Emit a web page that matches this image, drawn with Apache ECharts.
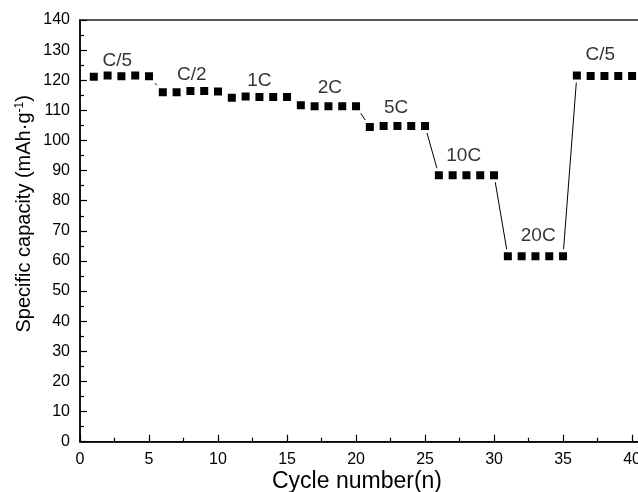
<!DOCTYPE html>
<html><head><meta charset="utf-8">
<script src="https://cdn.jsdelivr.net/npm/echarts@6/dist/echarts.min.js"></script>
<style>html,body{margin:0;padding:0;background:#fff;overflow:hidden}#c{width:638px;height:492px}</style>
</head><body><div id="c"></div>
<script>
var cycles = [1,2,3,4,5,6,7,8,9,10,11,12,13,14,15,16,17,18,19,20,21,22,23,24,25,26,27,28,29,30,31,32,33,34,35,36,37,38,39,40];
var capacity = [121.2,121.6,121.3,121.6,121.3, 116.0,116.0,116.4,116.4,116.3, 114.2,114.6,114.4,114.4,114.4, 111.7,111.4,111.4,111.4,111.4, 104.5,104.8,104.8,104.8,104.8, 88.5,88.5,88.5,88.5,88.5, 61.6,61.6,61.6,61.6,61.6, 121.6,121.4,121.4,121.4,121.4];
var rateLabels = ['C/5','C/2','1C','2C','5C','10C','20C','C/5'];
var labelX = [2.7, 8.1, 13.0, 18.1, 22.9, 27.8, 33.2, 37.7];
var labelY = [126.4, 121.7, 119.9, 117.6, 110.8, 95.0, 68.5, 128.4];
var xTicks = [0,5,10,15,20,25,30,35,40];
var yTicks = [0,10,20,30,40,50,60,70,80,90,100,110,120,130,140];

var chart = echarts.init(document.getElementById('c'));
var font = 'Liberation Sans, Arial, sans-serif';
var axisLine = {show:true, lineStyle:{color:'#000', width:1.5}};
chart.setOption({
  animation:false,
  textStyle:{fontFamily:font},
  grid:{left:80, top:20, width:562, height:421.7, show:true, borderColor:'#222', borderWidth:1.5, containLabel:false, outerBoundsMode:'none'},
  xAxis:{type:'value', min:0, max:40.72, interval:5,
    axisLine:axisLine,
    axisTick:{show:true, inside:true, length:7, lineStyle:{color:'#000', width:1.2}},
    minorTick:{show:true, splitNumber:2, length:4, lineStyle:{color:'#000', width:1.2}},
    splitLine:{show:false},
    axisLabel:{color:'#000', fontSize:16, margin:10, fontFamily:font, showMaxLabel:false,
      formatter:function(v){return xTicks.indexOf(v)>=0 ? String(v) : '';}},
    name:'Cycle number(n)', nameLocation:'middle', nameGap:28, nameMoveOverlap:false,
    nameTextStyle:{color:'#000', fontSize:23, fontFamily:font, padding:[0,8,0,0]}
  },
  yAxis:{type:'value', min:0, max:140, interval:10,
    axisLine:axisLine,
    axisTick:{show:true, inside:true, length:7, lineStyle:{color:'#000', width:1.2}},
    minorTick:{show:true, splitNumber:2, length:4, lineStyle:{color:'#000', width:1.2}},
    splitLine:{show:false},
    axisLabel:{color:'#000', fontSize:16, margin:10, fontFamily:font,
      formatter:function(v){return yTicks.indexOf(v)>=0 ? String(v) : '';}},
    name:'{a|Specific capacity (mAh·g}{s|-1}{a|)}', nameLocation:'middle', nameGap:45, nameRotate:90, nameMoveOverlap:false,
    nameTextStyle:{color:'#000', fontSize:20, fontFamily:font, padding:[0,0,0,34],
      rich:{a:{fontSize:20, fontFamily:font, color:'#000'}, s:{fontSize:12, fontFamily:font, color:'#000', verticalAlign:'top', padding:[0,0,9,0]}}}
  },
  series:[
    {type:'line', data:cycles.map(function(c,i){return [c, capacity[i]];}),
      symbol:'rect', symbolSize:11, showSymbol:true,
      itemStyle:{color:'#000', borderColor:'#fff', borderWidth:3}, lineStyle:{color:'#000', width:1}},
    {type:'scatter', symbolSize:0, silent:true,
      data:labelX.map(function(x,i){return {value:[x, labelY[i]], name:rateLabels[i]};}),
      label:{show:true, position:'inside', formatter:'{b}', color:'#000', fontSize:19, fontFamily:font}}
  ]
});
</script></body></html>
